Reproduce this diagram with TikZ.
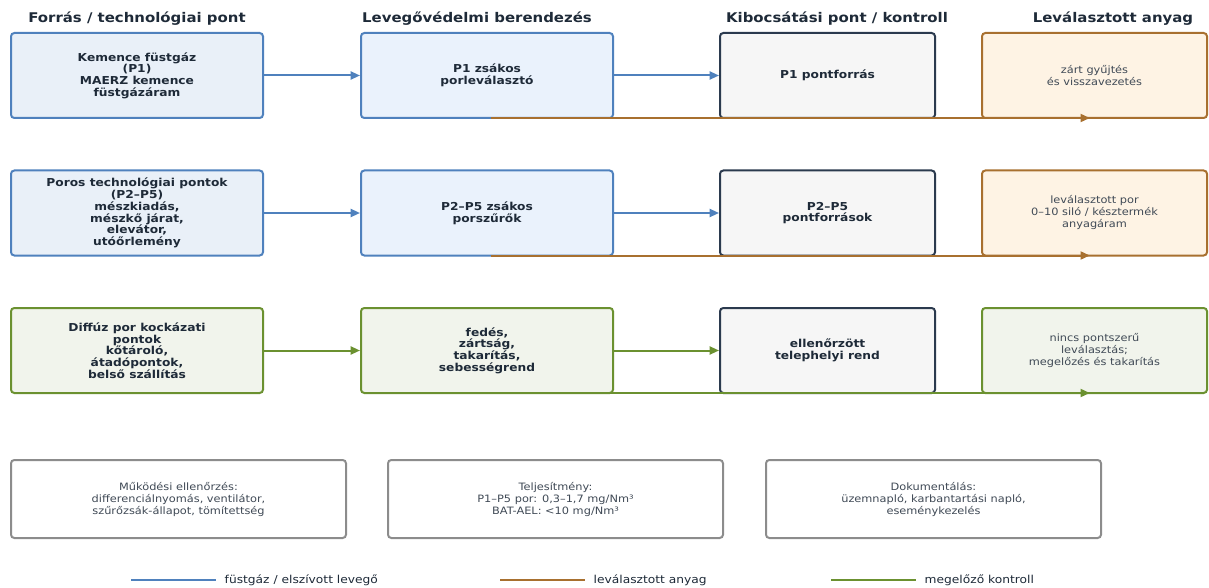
\documentclass[tikz,border=0pt]{standalone}
\usepackage{fontspec}
\setmainfont[FakeStretch=1.12]{DejaVu Sans}
\usetikzlibrary{arrows.meta}
\definecolor{txt}{HTML}{1E2A38}
\definecolor{bluE}{HTML}{4F81BD}
\definecolor{bluefillA}{HTML}{E9F0F8}
\definecolor{bluefillB}{HTML}{EAF2FC}
\definecolor{darkE}{HTML}{2B3A4E}
\definecolor{grayfill}{HTML}{F6F6F6}
\definecolor{brownE}{HTML}{A8702F}
\definecolor{brownfill}{HTML}{FEF3E4}
\definecolor{greenE}{HTML}{6B9130}
\definecolor{greenfill}{HTML}{F1F4EC}
\definecolor{grayE}{HTML}{8C8C8C}
\tikzset{
  box/.style={draw, line width=1.5pt, rounded corners=2.5pt, align=center, text=txt, inner sep=2pt},
  boldtxt/.style={font=\fontsize{8.2}{8.8}\selectfont\bfseries},
  smalltxt/.style={font=\fontsize{7.6}{9}\selectfont, text=txt!85},
  wideA/.style={minimum width=189pt, minimum height=63.75pt},
  wideC/.style={minimum width=161.25pt, minimum height=63.75pt},
  wideD/.style={minimum width=168.75pt, minimum height=63.75pt},
  bottombox/.style={box, draw=grayE, fill=white, minimum width=251.25pt, minimum height=58.5pt, smalltxt},
  header/.style={font=\fontsize{10}{11}\selectfont\bfseries, text=txt},
  flow/.style={line width=1.5pt, -{Triangle[length=7pt,width=6pt]}},
  legline/.style={line width=2.2pt},
  legtxt/.style={font=\fontsize{8.2}{9}\selectfont, text=txt, anchor=west},
}
\begin{document}
\begin{tikzpicture}[x=0.75pt,y=-0.75pt]
\useasboundingbox (0,0) rectangle (1209,588);
% headers
\node[header] (h1) at (137,19) {Forrás / technológiai pont};
\node[header] (h2) at (477,19) {Levegővédelmi berendezés};
\node[header] (h3) at (837,19) {Kibocsátási pont / kontroll};
\node[header] (h4) at (1113,19) {Leválasztott anyag};
% row 1
\node[box, wideA, boldtxt, draw=bluE, fill=bluefillA] (a1) at (137,75.5) {Kemence füstgáz\\(P1)\\MAERZ kemence\\füstgázáram};
\node[box, wideA, boldtxt, draw=bluE, fill=bluefillB] (b1) at (487,75.5) {P1 zsákos\\porleválasztó};
\node[box, wideC, boldtxt, draw=darkE, fill=grayfill] (c1) at (827.5,75.5) {P1 pontforrás};
\node[box, wideD, smalltxt, draw=brownE, fill=brownfill] (d1) at (1094.5,75.5) {zárt gyűjtés\\és visszavezetés};
% row 2
\node[box, wideA, boldtxt, draw=bluE, fill=bluefillA] (a2) at (137,213) {Poros technológiai pontok\\(P2–P5)\\mészkiadás,\\mészkő járat,\\elevátor,\\utóőrlemény};
\node[box, wideA, boldtxt, draw=bluE, fill=bluefillB] (b2) at (487,213) {P2–P5 zsákos\\porszűrők};
\node[box, wideC, boldtxt, draw=darkE, fill=grayfill] (c2) at (827.5,213) {P2–P5\\pontforrások};
\node[box, wideD, smalltxt, draw=brownE, fill=brownfill] (d2) at (1094.5,213) {leválasztott por\\0–10 siló / késztermék\\anyagáram};
% row 3
\node[box, wideA, boldtxt, draw=greenE, fill=greenfill] (a3) at (137,350.5) {Diffúz por kockázati\\pontok\\kőtároló,\\átadópontok,\\belső szállítás};
\node[box, wideA, boldtxt, draw=greenE, fill=greenfill] (b3) at (487,350.5) {fedés,\\zártság,\\takarítás,\\sebességrend};
\node[box, wideC, boldtxt, draw=darkE, fill=grayfill] (c3) at (827.5,350.5) {ellenőrzött\\telephelyi rend};
\node[box, wideD, smalltxt, draw=greenE, fill=greenfill] (d3) at (1094.5,350.5) {nincs pontszerű\\leválasztás;\\megelőzés és takarítás};
% connectors
\draw[flow, bluE] (a1.east) -- (b1.west);
\draw[flow, bluE] (b1.east) -- (c1.west);
\draw[flow, bluE] (a2.east) -- (b2.west);
\draw[flow, bluE] (b2.east) -- (c2.west);
\draw[flow, greenE] (a3.east) -- (b3.west);
\draw[flow, greenE] (b3.east) -- (c3.west);
\coordinate (s1) at ([xshift=3pt,yshift=0.75pt]b1.south);
\coordinate (e1) at ([xshift=-3.5pt,yshift=0.75pt]d1.south);
\coordinate (s2) at ([xshift=3pt,yshift=0.75pt]b2.south);
\coordinate (e2) at ([xshift=-3.5pt,yshift=0.75pt]d2.south);
\coordinate (s3) at ([xshift=3pt,yshift=0.75pt]b3.south);
\coordinate (e3) at ([xshift=-3.5pt,yshift=0.75pt]d3.south);
\draw[flow, brownE] (s1) -- (e1);
\draw[flow, brownE] (s2) -- (e2);
\draw[flow, greenE] (s3) -- (e3);
% bottom boxes
\node[bottombox] (m1) at (178.5,499) {Működési ellenőrzés:\\differenciálnyomás, ventilátor,\\szűrőzsák-állapot, tömítettség};
\node[bottombox] (m2) at (555.5,499) {Teljesítmény:\\P1–P5 por: 0,3–1,7 mg/Nm³\\BAT-AEL: <10 mg/Nm³};
\node[bottombox] (m3) at (933.5,499) {Dokumentálás:\\üzemnapló, karbantartási napló,\\eseménykezelés};
% legend
\coordinate (l1a) at (131,580); \coordinate (l1b) at (216,580);
\coordinate (l2a) at (500,580); \coordinate (l2b) at (585,580);
\coordinate (l3a) at (831,580); \coordinate (l3b) at (916,580);
\draw[legline, bluE] (l1a) -- (l1b);
\draw[legline, brownE] (l2a) -- (l2b);
\draw[legline, greenE] (l3a) -- (l3b);
\node[legtxt] (t1) at (220,580) {füstgáz / elszívott levegő};
\node[legtxt] (t2) at (589,580) {leválasztott anyag};
\node[legtxt] (t3) at (920,580) {megelőző kontroll};
\end{tikzpicture}
\end{document}
